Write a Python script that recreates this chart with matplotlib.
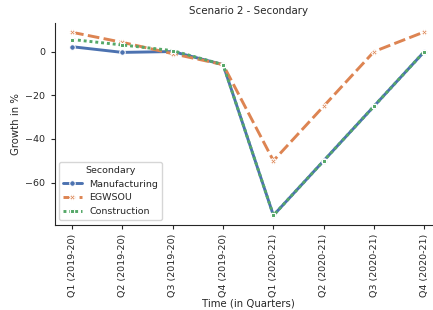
import matplotlib
matplotlib.use("Agg")
import matplotlib.pyplot as plt
import seaborn as sns
import pandas as pd

quarters = ["Q1 (2019-20)", "Q2 (2019-20)", "Q3 (2019-20)", "Q4 (2019-20)",
            "Q1 (2020-21)", "Q2 (2020-21)", "Q3 (2020-21)", "Q4 (2020-21)"]
manufacturing = [2.2, -0.4, 0.0, -6.0, -75.0, -50.0, -25.0, 0.0]
egwsou = [8.8, 4.2, -1.0, -6.0, -50.0, -25.0, 0.0, 9.0]
construction = [5.5, 3.0, 0.4, -6.0, -75.0, -50.0, -25.0, 0.0]
series_names = ["Manufacturing", "EGWSOU", "Construction"]

sns.set_theme(style="ticks")
plt.rcParams['font.family'] = ['DejaVu Sans']

rows = []
for name, vals in zip(series_names, [manufacturing, egwsou, construction]):
    for q, v in zip(quarters, vals):
        rows.append({"Time (in Quarters)": q, "Growth in %": v, "Secondary": name})
df = pd.DataFrame(rows)

W, H = 433, 310
fig = plt.figure(figsize=(W/100, H/100), dpi=100)
ax = fig.add_axes([54.5/W, 1-224.5/H, (442-54.5)/W, (224.5-22.7)/H])

sns.lineplot(data=df, x="Time (in Quarters)", y="Growth in %", hue="Secondary",
             style="Secondary", markers=True, dashes=True, sort=False,
             linewidth=2.1, markersize=4.0, ax=ax)
sns.despine(ax=ax)
ax.set_title("Scenario 2 - Secondary", fontsize=7.4, color="#262626")
ax.set_xlabel("Time (in Quarters)", fontsize=7.3, labelpad=1)
ax.set_ylabel("Growth in %", fontsize=7.3, labelpad=3)
ax.tick_params(axis='both', labelsize=6.8, length=3, width=0.8)
for lab in ax.get_xticklabels():
    lab.set_rotation(90)
for s in ax.spines.values():
    s.set_linewidth(0.8)
leg = ax.legend(title="Secondary", loc="lower left", fontsize=6.8, title_fontsize=6.8)
fig.savefig("out.png", dpi=100)
